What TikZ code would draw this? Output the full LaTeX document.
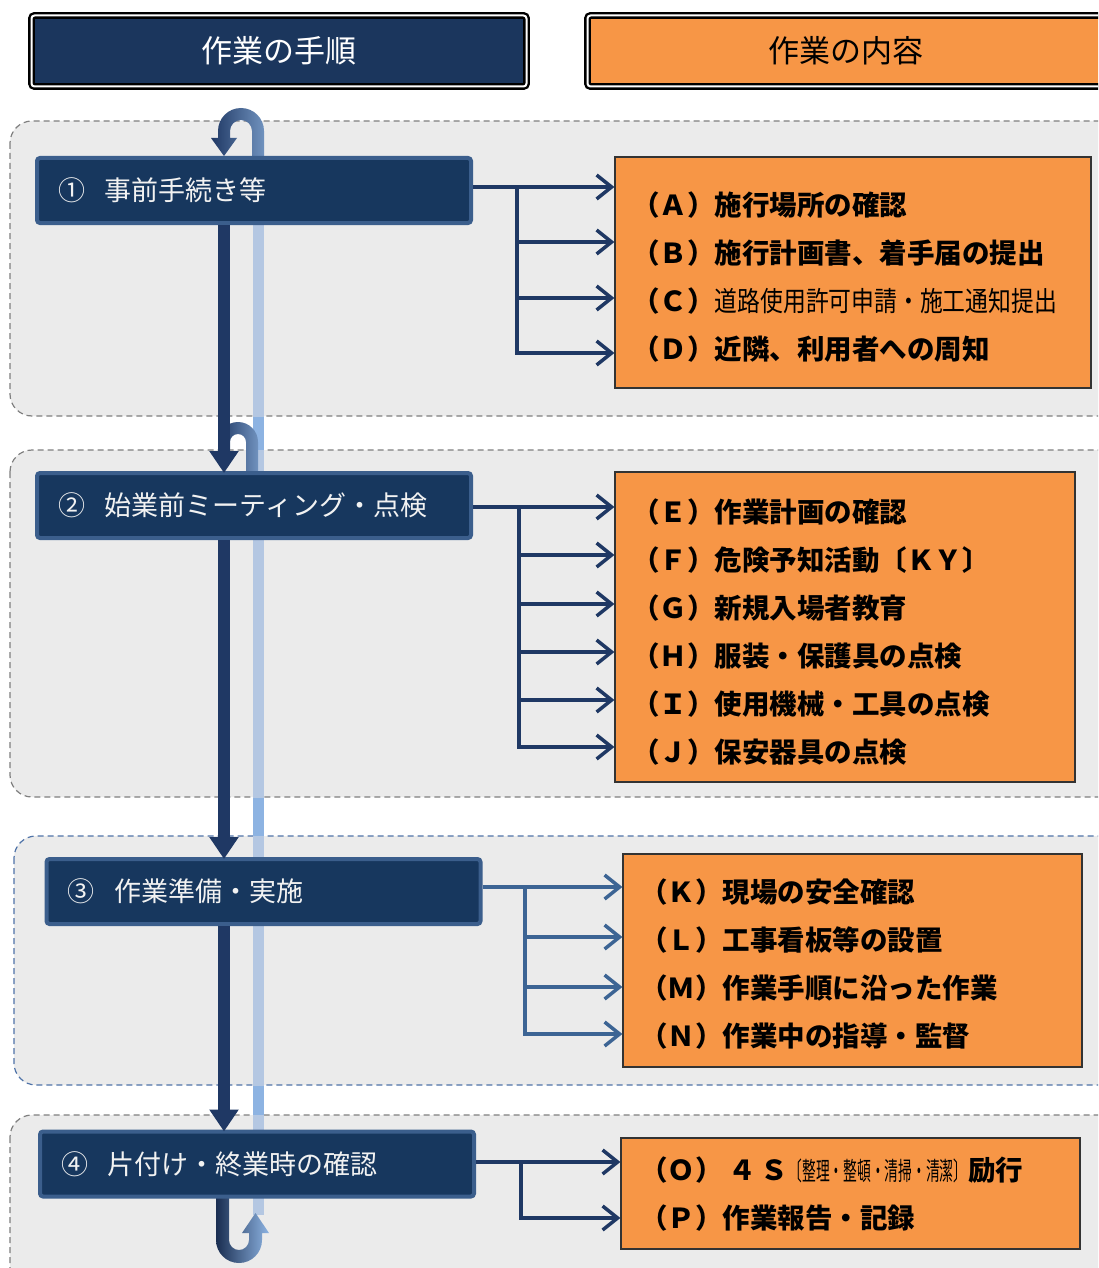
\documentclass[tikz,border=0pt]{standalone}
\usepackage{fontspec}
\setmainfont{Noto Sans CJK JP}
\usepackage{graphicx}
\usetikzlibrary{arrows.meta}
\definecolor{navy}{HTML}{17375E}
\definecolor{navyedge}{HTML}{3B5E8C}
\definecolor{hdrnavy}{HTML}{1B365D}
\definecolor{orangefill}{HTML}{F79646}
\definecolor{grpgray}{HTML}{EBEBEB}
\definecolor{dashgray}{HTML}{7F7F7F}
\definecolor{dashblue}{HTML}{4F73A8}
\definecolor{connnavy}{HTML}{1F3864}
\definecolor{connthree}{HTML}{3C6494}
\definecolor{barlight}{HTML}{B4C7E2}
\definecolor{barsat}{HTML}{8DB3E2}
\definecolor{midblue}{HTML}{7092BE}
\definecolor{textwhite}{HTML}{F2F2F2}
\begin{document}
\begin{tikzpicture}[x=1pt,y=-1pt,
  grpbox/.style={fill=grpgray,draw=dashgray,line width=1.2pt,dash pattern=on 6pt off 4pt,rounded corners=22pt},
  hdrbox/.style={draw=black,line width=2.4pt,double=white,double distance=2pt,rounded corners=3pt,minimum height=71pt,font=\fontsize{31}{36}\selectfont,inner sep=0pt},
  stepbox/.style={fill=navy,draw=navyedge,line width=4pt,rounded corners=3pt,minimum height=65pt,text width=392pt,inner xsep=21pt,inner ysep=0pt,align=left,text=textwhite,font=\fontsize{27}{32}\selectfont},
  orbox/.style={fill=orangefill,draw=black!80,line width=1.2pt,inner sep=0pt},
  item/.style={anchor=west,inner sep=0pt,font=\fontsize{27.5}{32}\selectfont\bfseries},
  conn/.style={draw=connnavy,line width=3.5pt,-{Straight Barb[length=15pt,width=24pt]}},
  trunk/.style={draw=connnavy,line width=3.5pt,line cap=rect},
  bigarrow/.style={draw=connnavy,line width=12pt,-{Triangle[length=22pt,width=28pt]}},
]
\useasboundingbox (0,0) rectangle (1098,1268);
\clip (0,0) rectangle (1098,1268);
\fill[white] (0,0) rectangle (1098,1268);

% group regions
\draw[grpbox] (10,121) rectangle (1125,416);
\draw[grpbox] (10,450) rectangle (1125,797);
\draw[grpbox,draw=dashblue] (14,836) rectangle (1125,1085);
\draw[grpbox] (10,1115) rectangle (1125,1300);

% headers
\node[hdrbox,fill=hdrnavy,text=white,minimum width=495pt] (h1) at (279,51) {\raisebox{-2pt}{作業の手順}};
\node[hdrbox,fill=orangefill,text=black,minimum width=517pt] (h2) at (846,51) {\raisebox{-2pt}{作業の内容}};

% light return bar
\fill[barlight] (252.5,225) rectangle (263.5,1215);
\fill[barsat] (252.5,417) rectangle (263.5,449.5);
\fill[barsat] (252.5,798) rectangle (263.5,835.5);
\fill[barsat] (252.5,1086) rectangle (263.5,1114.5);

% curved arrow above step 1
\shade[left color=connnavy,middle color=midblue,right color=midblue]
  (264,156) -- (264,131) arc[start angle=0,end angle=-180,radius=23]
  -- (218,138) -- (211,138) -- (224,156) -- (237,138) -- (230,138) -- (230,131)
  arc[start angle=-180,end angle=0,radius=11] -- (252,156) -- cycle;
% curved arrow above step 2
\shade[left color=connnavy,middle color=midblue,right color=midblue]
  (258,471) -- (258,442) arc[start angle=0,end angle=-180,radius=20]
  -- (218,452) -- (230,452) -- (230,442)
  arc[start angle=-180,end angle=0,radius=8] -- (246,471) -- cycle;
% U-turn below step 4
\shade[left color=connnavy!80!black,right color=barsat]
  (216,1196) -- (216,1240) arc[start angle=180,end angle=0,radius=23]
  -- (262,1233) -- (269,1233) -- (255.5,1213) -- (242,1233) -- (249,1233) -- (249,1240)
  arc[start angle=0,end angle=180,radius=10] -- (229,1196) -- cycle;

% step boxes
\node[stepbox] (s1) at (254,190.5) {\raisebox{-1.5pt}{①\hspace{20pt}事前手続き等}};
\node[stepbox] (s2) at (254,505.5) {\raisebox{-1.5pt}{②\hspace{20pt}始業前ミーティング・点検}};
\node[stepbox] (s3) at (263.5,891.5) {\raisebox{-1.5pt}{③\hspace{20pt}作業準備・実施}};
\node[stepbox] (s4) at (257,1164) {\raisebox{-1.5pt}{④\hspace{20pt}片付け・終業時の確認}};

% main downward arrows
\coordinate (ax) at (224,0);
\draw[bigarrow] (s1.south -| ax) -- ([yshift=-2pt]s2.north -| ax);
\draw[bigarrow] (s2.south -| ax) -- ([yshift=-2pt]s3.north -| ax);
\draw[bigarrow] (s3.south -| ax) -- ([yshift=-2pt]s4.north -| ax);

% orange boxes
\node[orbox,minimum width=476pt,minimum height=231pt] (A) at (853,272.5) {};
\node[orbox,minimum width=460pt,minimum height=310pt] (B) at (845,627) {};
\node[orbox,minimum width=459pt,minimum height=213pt] (C) at (852.5,960.5) {};
\node[orbox,minimum width=459pt,minimum height=111pt] (D) at (850.5,1193.5) {};

% items
\node[item] (a1) at (632,205) {（Ａ）施行場所の確認};
\node[item] (a2) at (632,253) {（Ｂ）施行計画書、着手届の提出};
\node[item] (a3) at (632,301) {（Ｃ）\scalebox{0.83}[1]{\mdseries 道路使用許可申請・施工通知提出}};
\node[item] (a4) at (632,349) {（Ｄ）近隣、利用者への周知};
\node[item] (b1) at (632,512) {（Ｅ）作業計画の確認};
\node[item] (b2) at (632,560) {（Ｆ）危険予知活動〔ＫＹ〕};
\node[item] (b3) at (632,608) {（Ｇ）新規入場者教育};
\node[item] (b4) at (632,656) {（Ｈ）服装・保護具の点検};
\node[item] (b5) at (632,704) {（Ｉ）使用機械・工具の点検};
\node[item] (b6) at (632,752) {（Ｊ）保安器具の点検};
\node[item] (c1) at (640,892) {（Ｋ）現場の安全確認};
\node[item] (c2) at (640,940) {（Ｌ）工事看板等の設置};
\node[item] (c3) at (640,988) {（Ｍ）作業手順に沿った作業};
\node[item] (c4) at (640,1036) {（Ｎ）作業中の指導・監督};
\node[item] (d1) at (640,1170) {（Ｏ）\hspace{6pt}４\hspace{4pt}Ｓ\hspace{1pt}\scalebox{0.5}[0.92]{\mdseries 〔整理・整頓・清掃・清潔〕}\hspace{1pt}励行};
\node[item] (d2) at (640,1218) {（Ｐ）作業報告・記録};

% connectors step 1
\coordinate (j1) at (517,187);
\draw[conn] (s1.east |- j1) -- (j1 -| A.west);
\coordinate (j1e) at (517,353);
\draw[trunk] (j1) -- (j1e);
\foreach \n/\y in {b/242,c/298,d/353} {
  \coordinate (j1\n) at (517,\y);
  \draw[conn] (j1\n) -- (j1\n -| A.west);
}
% connectors step 2
\coordinate (j2) at (519,507);
\draw[conn] (s2.east |- j2) -- (j2 -| B.west);
\coordinate (j2e) at (519,747);
\draw[trunk] (j2) -- (j2e);
\foreach \n/\y in {b/555,c/604,d/652,e/700,f/747} {
  \coordinate (j2\n) at (519,\y);
  \draw[conn] (j2\n) -- (j2\n -| B.west);
}
% connectors step 3
\coordinate (j3) at (525,887);
\draw[conn,draw=connthree] (s3.east |- j3) -- (j3 -| C.west);
\coordinate (j3e) at (525,1034);
\draw[trunk,draw=connthree] (j3) -- (j3e);
\foreach \n/\y in {b/937,c/987,d/1034} {
  \coordinate (j3\n) at (525,\y);
  \draw[conn,draw=connthree] (j3\n) -- (j3\n -| C.west);
}
% connectors step 4
\coordinate (j4) at (521,1162);
\draw[conn] (s4.east |- j4) -- (j4 -| D.west);
\coordinate (j4e) at (521,1218);
\draw[trunk] (j4) -- (j4e);
\draw[conn] (j4e) -- (j4e -| D.west);
\end{tikzpicture}
\end{document}
